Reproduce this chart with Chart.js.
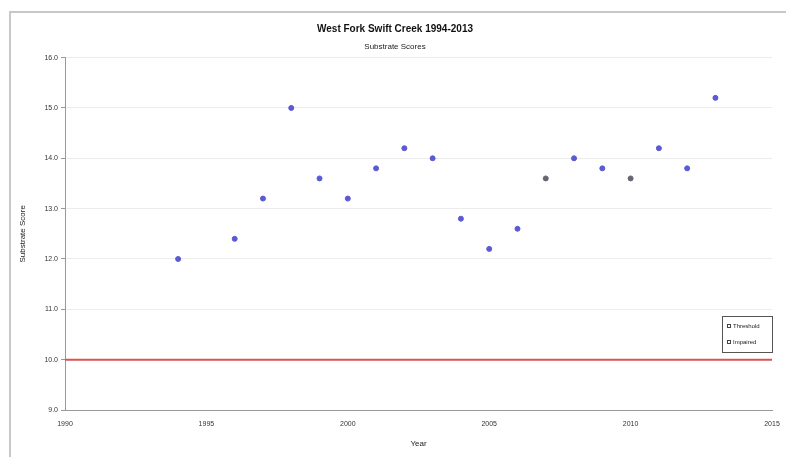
<!DOCTYPE html>
<html><head><meta charset="utf-8">
<script src="https://cdn.jsdelivr.net/npm/chart.js@4/dist/chart.umd.min.js"></script>
<style>html,body{margin:0;padding:0;background:#fff;}#wrap{width:786px;height:457px;position:relative;}</style>
</head><body><div id="wrap"><canvas id="c" width="786" height="457"></canvas></div>
<script>
const years = [1994,1996,1997,1998,1999,2000,2001,2002,2003,2004,2005,2006,2007,2008,2009,2010,2011,2012,2013];
const scores = [12.0,12.4,13.2,15.0,13.6,13.2,13.8,14.2,14.0,12.8,12.2,12.6,13.6,14.0,13.8,13.6,14.2,13.8,15.2];
const pointColors = ['#5a5ad2','#5a5ad2','#5a5ad2','#5a5ad2','#5a5ad2','#5a5ad2','#5a5ad2','#5a5ad2','#5a5ad2','#5a5ad2','#5a5ad2','#5a5ad2','#666670','#5a5ad2','#5a5ad2','#666670','#5a5ad2','#5a5ad2','#5a5ad2'];
const thresholdYears = [1990, 2015];
const thresholdValues = [10, 10];
const yTicks = [9,10,11,12,13,14,15,16];
const xTicks = [1990,1995,2000,2005,2010,2015];
const legendLabels = ['Threshold','Impaired'];

const FONT = 'Liberation Sans, Arial, sans-serif';
const frame = {
  id:'frame',
  beforeDraw(ch){
    const c = ch.ctx; c.save();
    c.strokeStyle = '#c8c8c8'; c.lineWidth = 2;
    c.beginPath(); c.moveTo(10, 457); c.lineTo(10, 12); c.lineTo(786, 12); c.stroke();
    c.restore();
  },
  afterDraw(ch){
    const c = ch.ctx; c.save();
    const x = 722, y = 316, w = 50, h = 36;
    c.fillStyle = '#fff'; c.fillRect(x, y, w, h);
    c.strokeStyle = '#555'; c.lineWidth = 1; c.strokeRect(x+0.5, y+0.5, w, h);
    c.font = '6px ' + FONT; c.fillStyle = '#222'; c.textBaseline = 'middle';
    legendLabels.forEach((t, i) => {
      const yy = y + 10 + i*16;
      c.strokeStyle = '#444'; c.strokeRect(x+5.5, yy-1.5, 3, 3);
      c.fillText(t, x + 11, yy);
    });
    c.restore();
  }
};

new Chart(document.getElementById('c'), {
  type: 'scatter',
  data: {
    datasets: [
      {
        label: legendLabels[0],
        type: 'line',
        data: thresholdYears.map((x, i) => ({x, y: thresholdValues[i]})),
        borderColor: '#d9534f',
        borderWidth: 2,
        pointRadius: 0,
        fill: false,
        order: 2
      },
      {
        label: 'Substrate Score',
        data: years.map((x, i) => ({x, y: scores[i]})),
        backgroundColor: pointColors,
        borderColor: pointColors,
        pointRadius: 2.5,
        pointStyle: 'circle',
        order: 1
      }
    ]
  },
  options: {
    responsive: false,
    animation: false,
    devicePixelRatio: 1,
    layout: { padding: { left: 18, right: 14, top: 23, bottom: 8 } },
    plugins: {
      legend: { display: false },
      tooltip: { enabled: false },
      title: { display: true, text: 'West Fork Swift Creek 1994-2013', color: '#111', font: { family: FONT, size: 10, weight: 'bold' }, padding: { top: 0, bottom: 7 } },
      subtitle: { display: true, text: 'Substrate Scores', color: '#222', font: { family: FONT, size: 8 }, padding: { top: 0, bottom: 6 } }
    },
    scales: {
      x: {
        type: 'linear', min: 1990, max: 2015,
        afterBuildTicks: s => { s.ticks = xTicks.map(v => ({value: v})); },
        ticks: { font: { family: FONT, size: 7 }, color: '#333', padding: 6, callback: v => String(v) },
        grid: { display: false, drawOnChartArea: false, drawTicks: true, tickLength: 4, color: '#999' },
        border: { color: '#999', width: 1 },
        title: { display: true, text: 'Year', font: { family: FONT, size: 8 }, color: '#222', padding: { top: 5, bottom: 0 } }
      },
      y: {
        min: 9, max: 16,
        afterBuildTicks: s => { s.ticks = yTicks.map(v => ({value: v})); },
        afterFit: s => { s.width = 47; },
        ticks: { font: { family: FONT, size: 7 }, color: '#333', padding: 3, callback: v => Number(v).toFixed(1) },
        grid: { color: '#ececec', tickLength: 4, tickColor: '#999' },
        border: { color: '#999', width: 1 },
        title: { display: true, text: 'Substrate Score', font: { family: FONT, size: 8 }, color: '#222', padding: { top: 0, bottom: 4 } }
      }
    }
  },
  plugins: [frame]
});
</script></body></html>
